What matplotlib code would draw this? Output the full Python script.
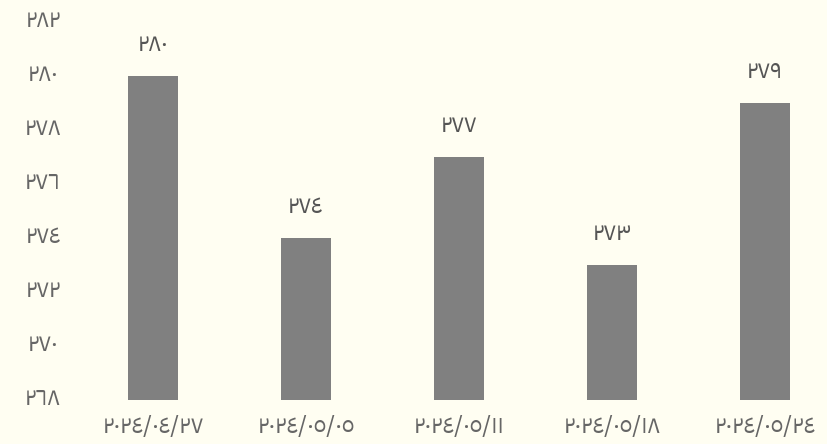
import matplotlib
matplotlib.use("Agg")
import matplotlib.pyplot as plt
import matplotlib.transforms as mtransforms

categories = ["٢٠٢٤/٠٤/٢٧", "٢٠٢٤/٠٥/٠٥", "٢٠٢٤/٠٥/١١", "٢٠٢٤/٠٥/١٨", "٢٠٢٤/٠٥/٢٤"]
values = [280, 274, 277, 273, 279]
value_labels = ["٢٨٠", "٢٧٤", "٢٧٧", "٢٧٣", "٢٧٩"]
yticks = [268, 270, 272, 274, 276, 278, 280, 282]
ytick_labels = ["٢٦٨", "٢٧٠", "٢٧٢", "٢٧٤", "٢٧٦", "٢٧٨", "٢٨٠", "٢٨٢"]

FONT = ["IBM Plex Sans Arabic", "Noto Sans Arabic", "DejaVu Sans"]
plt.rcParams["font.family"] = FONT

W, H = 828, 444
bg = "#FFFEF2"
fig = plt.figure(figsize=(W / 100, H / 100), dpi=100, facecolor=bg)
left_px, right_px = 76.5, 841.5
top_px, bot_px = 22, 400
ax = fig.add_axes([left_px / W, (H - bot_px) / H, (right_px - left_px) / W, (bot_px - top_px) / H])
ax.set_facecolor(bg)

x = list(range(len(categories)))
ax.bar(x, values, width=0.33, color="#808080", bottom=0)
ax.set_xlim(-0.5, len(categories) - 0.5)
ax.set_ylim(268, 282)

for xi, v, lab in zip(x, values, value_labels):
    ax.annotate(lab, (xi, v), xytext=(0, 23), textcoords="offset points",
                ha="center", va="center", fontsize=17, color="#555555")

ax.set_yticks(yticks)
ax.set_yticklabels(ytick_labels, fontsize=17, color="#666666")
ax.set_xticks(x)
ax.set_xticklabels(categories, fontsize=17, color="#666666")
ax.tick_params(axis="both", length=0)
ax.tick_params(axis="y", pad=24)
ax.tick_params(axis="x", pad=11)
shift = mtransforms.ScaledTranslation(0, 3 / 72, fig.dpi_scale_trans)
for lab in ax.get_yticklabels():
    lab.set_horizontalalignment("center")
    lab.set_transform(lab.get_transform() + shift)
for s in ax.spines.values():
    s.set_visible(False)

fig.savefig("out.png", dpi=100, facecolor=bg)
